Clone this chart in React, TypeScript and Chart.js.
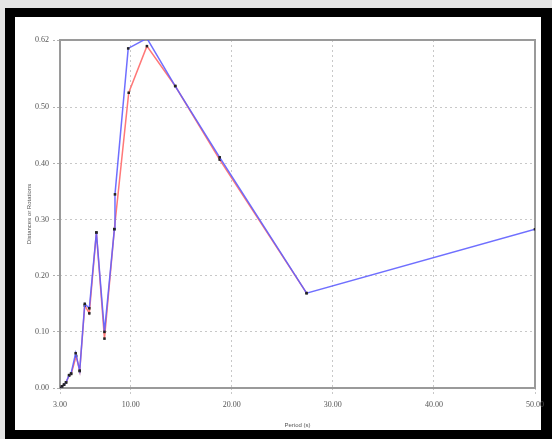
import React, { useEffect, useRef } from "react";
import { Chart, registerables } from "chart.js";

Chart.register(...registerables);

// Blue series (period in s, value)
const blueX = [3.0, 3.2, 3.4, 3.6, 3.9, 4.1, 4.55, 4.95, 5.45, 5.9, 6.6, 7.4, 8.38, 8.44, 9.75, 11.6, 14.4, 18.8, 27.4, 50.0];
const blueY = [0.0, 0.003, 0.006, 0.01, 0.023, 0.026, 0.062, 0.031, 0.15, 0.142, 0.277, 0.1, 0.283, 0.345, 0.605, 0.623, 0.538, 0.411, 0.169, 0.283];

// Red series
const redX = [3.0, 3.2, 3.4, 3.6, 3.9, 4.1, 4.6, 4.95, 5.45, 5.9, 6.6, 7.4, 8.38, 9.8, 11.6, 14.4, 18.8, 27.4];
const redY = [0.0, 0.003, 0.006, 0.01, 0.022, 0.025, 0.057, 0.03, 0.147, 0.133, 0.277, 0.088, 0.283, 0.526, 0.609, 0.538, 0.407, 0.169];

const xTicks = [3, 10, 20, 30, 40, 50];
const yTicks = [0, 0.1, 0.2, 0.3, 0.4, 0.5, 0.62];
const xTitle = "Period (s)";
const yTitle = "Distances or Rotations";

export default function App() {
  const ref = useRef<HTMLCanvasElement>(null);

  useEffect(() => {
    const toPts = (xs: number[], ys: number[]) => xs.map((x, i) => ({ x, y: ys[i] }));
    const framePlugin = {
      id: "frame",
      beforeDatasetsDraw(chart: any) {
        const { ctx, chartArea: a } = chart;
        ctx.save();
        ctx.strokeStyle = "#9a9a9a";
        ctx.lineWidth = 2;
        ctx.strokeRect(a.left, a.top, a.right - a.left, a.bottom - a.top);
        ctx.restore();
      },
    };
    const tickFont = { family: "Liberation Serif", size: 8 };
    const titleFont = { family: "Liberation Sans", size: 6 };
    const common = {
      showLine: true,
      borderWidth: 1.5,
      pointStyle: "rect",
      pointRadius: 1.8,
      pointBackgroundColor: "#222",
      pointBorderColor: "#222",
      pointBorderWidth: 0,
      tension: 0,
    };
    const chart = new Chart(ref.current as HTMLCanvasElement, {
      type: "scatter",
      data: {
        datasets: [
          { ...common, data: toPts(blueX, blueY), borderColor: "rgba(95,95,255,0.9)" } as any,
          { ...common, data: toPts(redX, redY), borderColor: "#ff7878" } as any,
        ],
      },
      options: {
        responsive: false,
        animation: false,
        layout: { padding: { left: 20, top: 40, right: 17, bottom: 6 } },
        plugins: { legend: { display: false }, tooltip: { enabled: false } },
        scales: {
          x: {
            type: "linear",
            min: 3,
            max: 50,
            afterBuildTicks: (s: any) => {
              s.ticks = xTicks.map((v) => ({ value: v }));
            },
            afterFit: (s: any) => {
              s.height = 45;
            },
            ticks: {
              callback: (v: any) => Number(v).toFixed(2),
              font: tickFont,
              color: "#555",
              padding: 5,
              maxRotation: 0,
              autoSkip: false,
            },
            grid: {
              color: "#c8c8c8",
              lineWidth: 1,
              tickLength: 7,
              tickColor: "#c8c8c8",
              tickBorderDash: [2, 2],
            },
            border: { display: false, dash: [2, 3] },
            title: { display: true, text: xTitle, font: titleFont, color: "#555", padding: { top: 2, bottom: 4 } },
          },
          y: {
            type: "linear",
            min: 0,
            max: 0.62,
            afterBuildTicks: (s: any) => {
              s.ticks = yTicks.map((v) => ({ value: v }));
            },
            afterFit: (s: any) => {
              s.width = 40;
            },
            ticks: {
              callback: (v: any) => Number(v).toFixed(2),
              font: tickFont,
              color: "#555",
              padding: 4,
              autoSkip: false,
            },
            grid: {
              color: "#c8c8c8",
              lineWidth: 1,
              tickLength: 7,
              tickColor: "#b0b0b0",
              tickBorderDash: [2, 2],
            },
            border: { display: false, dash: [2, 3] },
            title: { display: true, text: yTitle, font: titleFont, color: "#555", padding: { top: 6, bottom: 2 } },
          },
        },
      },
      plugins: [framePlugin],
    } as any);
    return () => chart.destroy();
  }, []);

  return (
    <div style={{ position: "fixed", left: 0, top: 0, width: 552, height: 439, background: "#e4e4e4", overflow: "hidden" }}>
      <div style={{ position: "absolute", left: 5, top: 8, width: 547, height: 431, background: "#000" }} />
      <div style={{ position: "absolute", left: 15, top: 17, width: 526, height: 413, background: "#fff" }} />
      <canvas ref={ref} width={552} height={439} style={{ position: "absolute", left: 0, top: 0, width: 552, height: 439 }} />
    </div>
  );
}
